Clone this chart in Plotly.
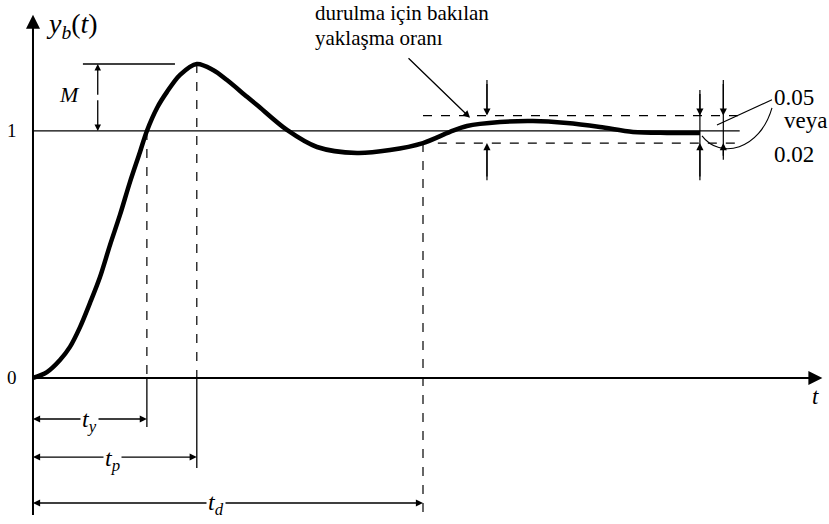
import plotly.graph_objects as go

t_vals = [0.0, 0.179, 0.346, 0.474, 0.603, 0.731, 0.859, 0.987, 1.115, 1.244, 1.372,
          1.46, 1.590, 1.718, 1.885, 2.10, 2.308, 2.487, 2.744, 2.872, 3.256, 3.641,
          4.154, 4.577, 5.0, 5.346, 5.564, 5.987, 6.410, 6.846, 7.269, 7.692, 8.128, 8.551]
y_vals = [0.0, 0.024, 0.073, 0.126, 0.206, 0.304, 0.409, 0.538, 0.660, 0.794, 0.915,
          1.0, 1.093, 1.158, 1.227, 1.271, 1.247, 1.206, 1.138, 1.105, 1.004, 0.935,
          0.911, 0.923, 0.951, 0.996, 1.020, 1.036, 1.040, 1.032, 1.016, 0.996, 0.992, 0.992]

# Characteristic times and levels
t_y = 1.46      # rise time
t_p = 2.10      # peak time
t_d = 5.0       # settling time
y_final = 1.0
y_peak = 1.271
band_hi = 1.062
band_lo = 0.951

# Axis ranges chosen so the drawing fills the canvas
x_range = [-0.423, 10.205]
y_range = [-0.591, 1.530]

BLACK = "black"
SERIF = "Times New Roman"

fig = go.Figure()
fig.add_trace(go.Scatter(x=t_vals, y=y_vals, mode="lines",
                         line=dict(color=BLACK, width=4.5, shape="spline", smoothing=0.9),
                         hoverinfo="skip", showlegend=False))

shapes = []


def seg(x0, y0, x1, y1, width=1.3, dash="solid"):
    shapes.append(dict(type="line", xref="x", yref="y", x0=x0, y0=y0, x1=x1, y1=y1,
                       line=dict(color=BLACK, width=width, dash=dash)))


# axes
seg(0, -0.555, 0, 1.44, width=2)
seg(0, 0, 10.05, 0, width=2)
# final value line
seg(0, y_final, 9.06, y_final, width=1.3)
# peak reference line
seg(0.64, y_peak, 1.82, y_peak, width=1.3)
# tolerance band
seg(t_d, band_hi, 9.10, band_hi, width=1.3, dash="dash")
seg(5.19, band_lo, 9.10, band_lo, width=1.3, dash="dash")
# time markers: dashed above the axis, solid below
seg(t_y, y_final, t_y, 0, width=1.2, dash="dash")
seg(t_y, 0, t_y, -0.198, width=1.3)
seg(t_p, y_peak, t_p, 0, width=1.2, dash="dash")
seg(t_p, 0, t_p, -0.364, width=1.3)
seg(t_d, band_lo, t_d, -0.575, width=1.2, dash="dash")
# band tick lines
seg(8.55, 1.166, 8.55, 0.80, width=1.2)
seg(8.85, 1.206, 8.85, 0.883, width=1.2)
seg(5.82, 1.206, 5.82, band_hi + 0.02, width=1.2)
seg(5.82, 0.80, 5.82, band_lo - 0.02, width=1.2)
# callout leaders to the tolerance labels
seg(9.474, 1.126, 8.769, 1.024, width=1.1)
shapes.append(dict(type="path", xref="x", yref="y",
                   path="M 9.474,1.093 C 9.321,0.923 8.808,0.883 8.577,0.980",
                   line=dict(color=BLACK, width=1.1)))

annotations = []


def arrow(x_tip, y_tip, x_tail, y_tail, size=1.0, width=1.3):
    annotations.append(dict(x=x_tip, y=y_tip, ax=x_tail, ay=y_tail, xref="x", yref="y",
                            axref="x", ayref="y", text="", showarrow=True,
                            arrowhead=2, arrowsize=size, arrowwidth=width,
                            arrowcolor=BLACK))


def label(x, y, text, size=17, xanchor="center", bg=None):
    a = dict(x=x, y=y, xref="x", yref="y", text=text, showarrow=False,
             xanchor=xanchor, yanchor="middle",
             font=dict(family=SERIF, size=size, color=BLACK))
    if bg:
        a["bgcolor"] = bg
    annotations.append(a)


# axis arrowheads
arrow(10.12, 0, 9.9, 0, size=1.4, width=2)
arrow(0, 1.47, 0, 1.38, size=1.4, width=2)

# overshoot M
arrow(0.83, y_peak, 0.83, 1.14)
arrow(0.83, y_final, 0.83, 1.13)

# band arrows
for xb, top in [(5.82, 1.206), (8.55, 1.166), (8.85, 1.206)]:
    arrow(xb, band_hi, xb, top - 0.01, size=1.1)
for xb, bot in [(5.82, 0.80), (8.55, 0.80), (8.85, 0.883)]:
    arrow(xb, band_lo, xb, bot + 0.01, size=1.1)

# dimension arrows for t_y, t_p, t_d
for t_end, yd, xl in [(t_y, -0.166, 0.73), (t_p, -0.320, 1.02), (t_d, -0.506, 2.35)]:
    arrow(0, yd, xl, yd, size=1.1)
    arrow(t_end, yd, xl, yd, size=1.1)

# pointer to the settling band
arrow(5.603, 1.053, 4.795, 1.300, size=1.1, width=1.3)

# text
label(0.14, 1.425, "<i>y</i><sub><i>b</i></sub>(<i>t</i>)", size=28, xanchor="left")
label(-0.269, y_final, "1", size=19)
label(-0.269, 0, "0", size=19)
label(0.462, 1.146, "<i>M</i>", size=22)
label(10.03, -0.074, "<i>t</i>", size=23)
label(0.73, -0.175, "<i>t</i><sub><i>y</i></sub>", size=24, bg="white")
label(1.02, -0.330, "<i>t</i><sub><i>p</i></sub>", size=24, bg="white")
label(2.35, -0.510, "<i>t</i><sub><i>d</i></sub>", size=24, bg="white")
label(3.59, 1.478, "durulma için bakılan", size=21, xanchor="left")
label(3.59, 1.377, "yaklaşma oranı", size=21, xanchor="left")
label(9.474, 1.134, "0.05", size=23, xanchor="left")
label(9.603, 1.043, "veya", size=23, xanchor="left")
label(9.474, 0.903, "0.02", size=23, xanchor="left")

fig.update_layout(
    width=829, height=524,
    margin=dict(l=0, r=0, t=0, b=0),
    font=dict(family=SERIF, color=BLACK),
    paper_bgcolor="white", plot_bgcolor="white",
    xaxis=dict(range=x_range, visible=False, fixedrange=True),
    yaxis=dict(range=y_range, visible=False, fixedrange=True),
    shapes=shapes, annotations=annotations, showlegend=False,
)

fig.write_html("out.html")
